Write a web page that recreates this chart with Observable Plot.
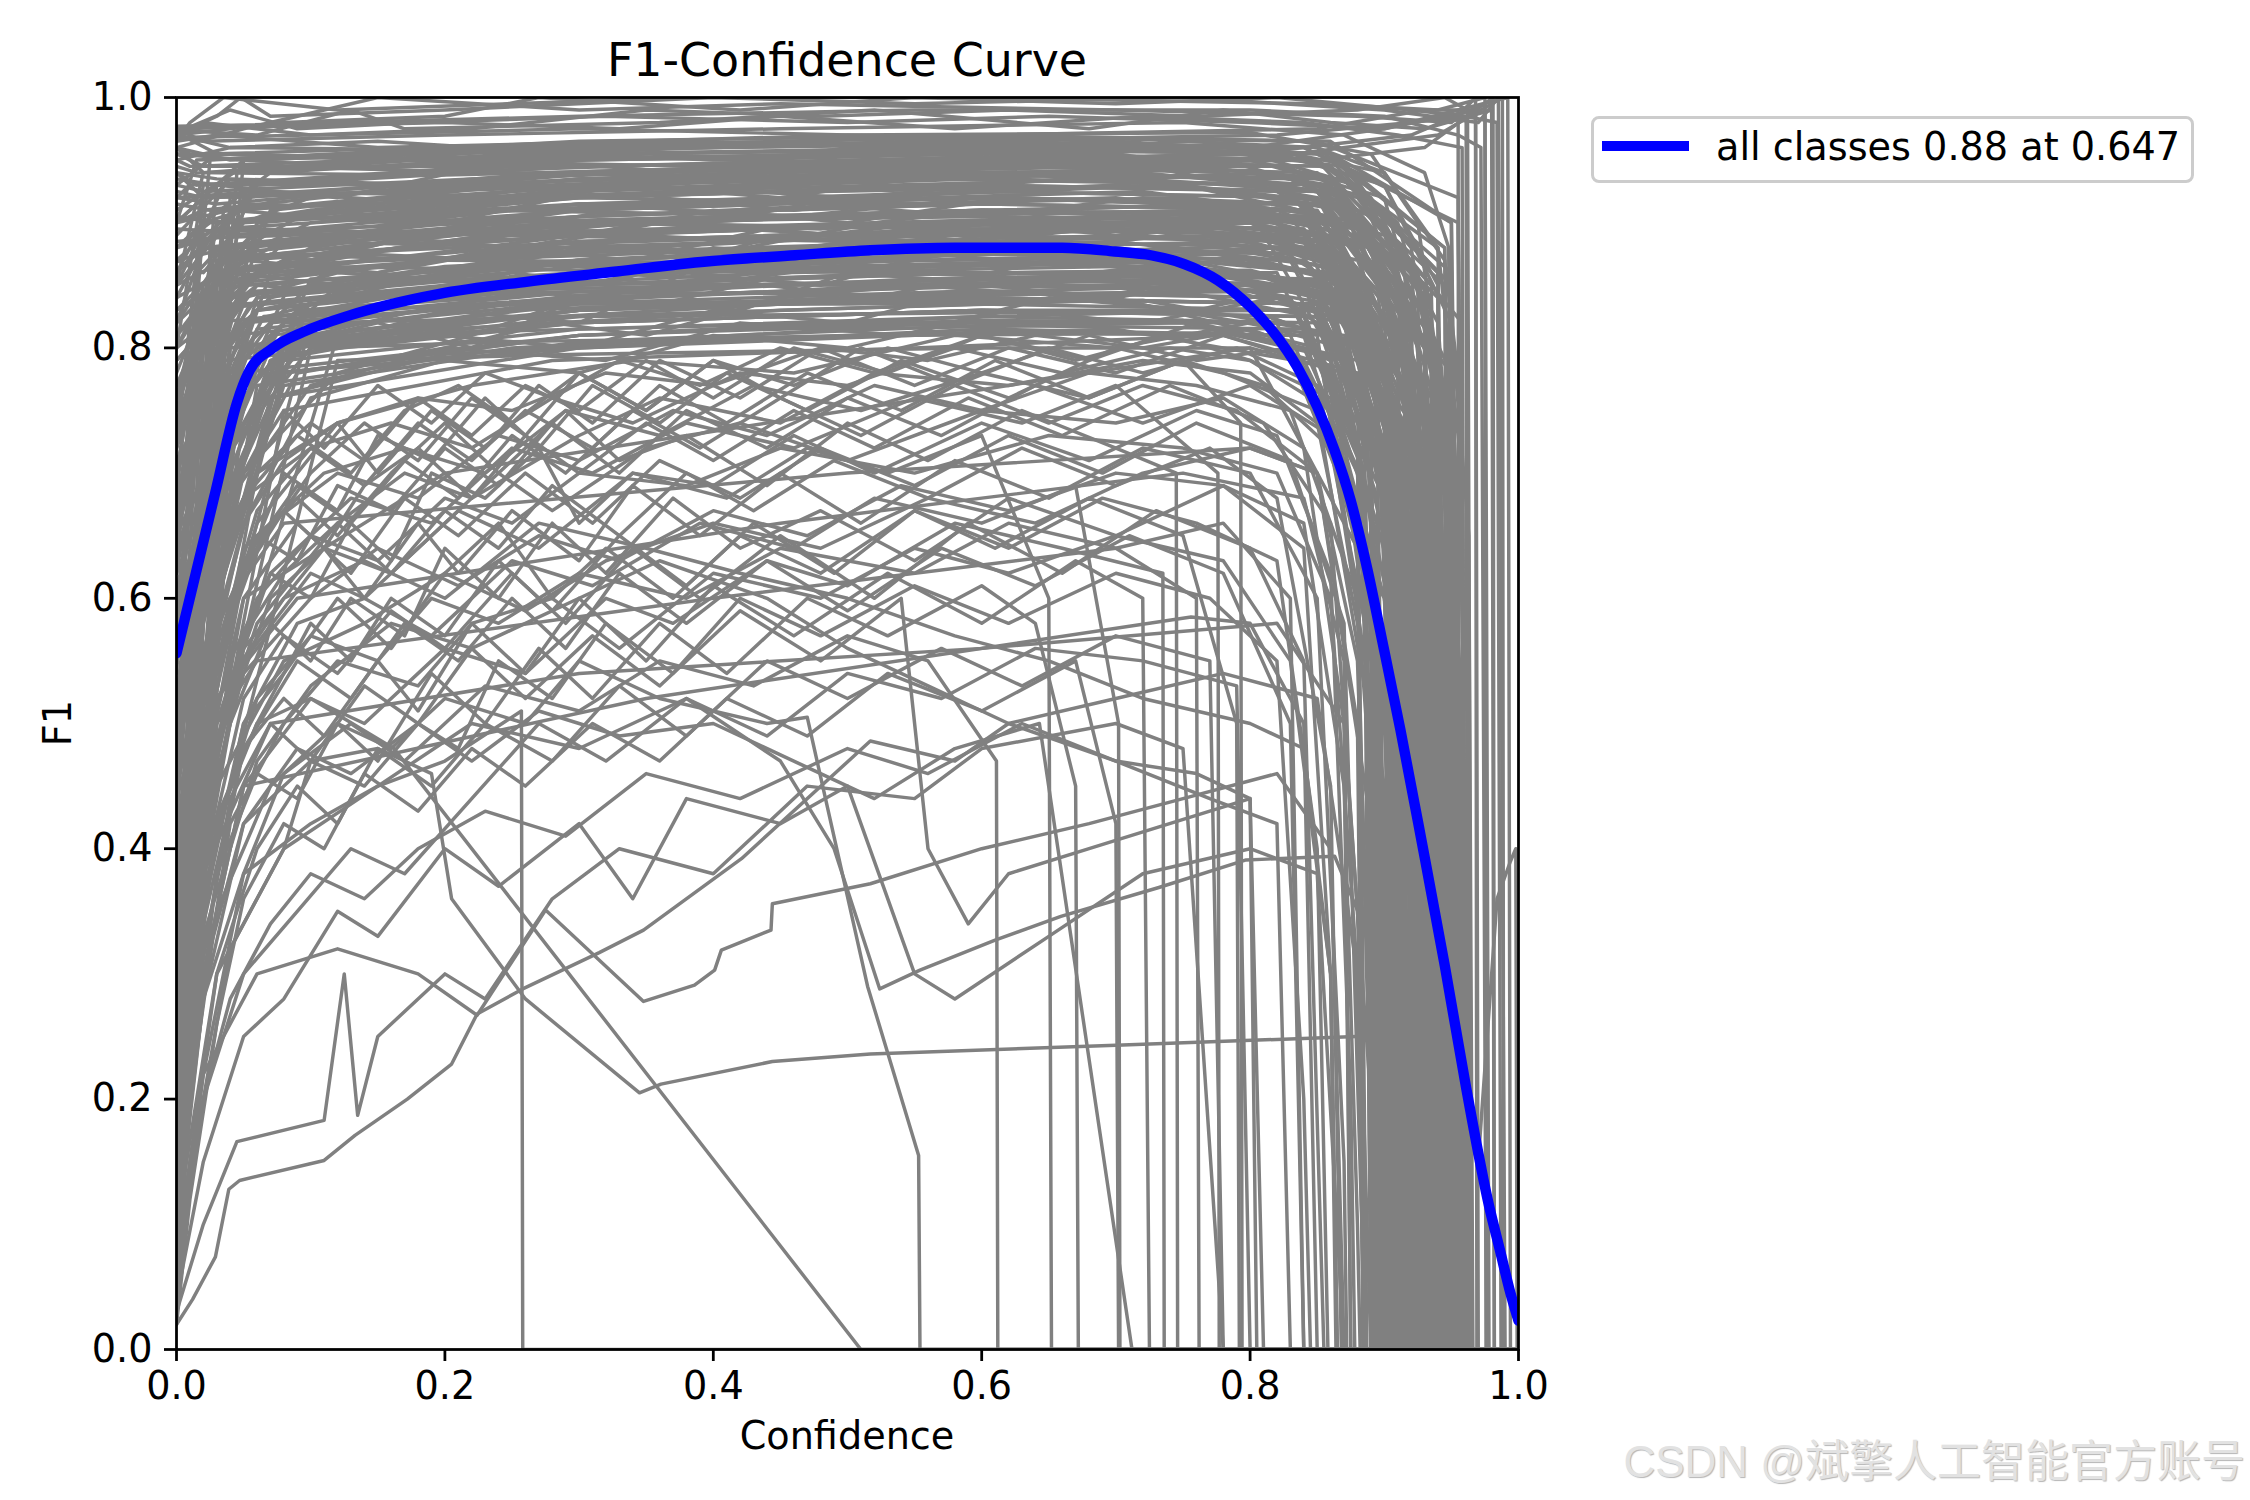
<!DOCTYPE html>
<html><head><meta charset="utf-8">
<script src="https://cdn.jsdelivr.net/npm/d3@7"></script>
<script src="https://cdn.jsdelivr.net/npm/@observablehq/plot@0.6"></script>
<style>
html,body{margin:0;padding:0;background:#fff;overflow:hidden;}
#wrap{position:relative;width:2250px;height:1500px;overflow:hidden;font-family:"DejaVu Sans",sans-serif;background:#fff;}
#chart{position:absolute;left:0;top:0;}
.t{position:absolute;white-space:nowrap;line-height:1;color:#000;}
</style></head><body>
<div id="wrap">
<div id="chart"></div>
<div class="t" style="left:847px;top:38.2px;font-size:45.9px;transform:translateX(-50%);">F1-Confidence Curve</div>
<div class="t" style="left:847px;top:1416.7px;font-size:38.2px;transform:translateX(-50%);">Confidence</div>
<div class="t" style="left:58px;top:723px;font-size:38.2px;transform:translate(-50%,-50%) rotate(-90deg);">F1</div>
<div style="position:absolute;left:1591px;top:116px;width:603px;height:67px;box-sizing:border-box;border:3px solid #cccccc;border-radius:8px;background:rgba(255,255,255,0.8);"></div>
<div style="position:absolute;left:1602px;top:140.8px;width:87px;height:10.4px;background:#0000ff;"></div>
<div class="t" id="legtext" style="left:1716px;top:127.7px;font-size:38.2px;"></div>
<div class="t" style="right:5px;top:1440px;font-size:44px;font-family:'Liberation Sans','Noto Sans CJK SC',sans-serif;color:#e2e2e2;text-shadow:1px 1px 1px #b5b5b5;">CSDN @斌擎人工智能官方账号</div>
</div>
<script>
// ---- axis ticks ----
const confTicks = [0, 0.2, 0.4, 0.6, 0.8, 1.0];
const f1Ticks = [0, 0.2, 0.4, 0.6, 0.8, 1.0];
// ---- mean curve (all classes) ----
const bestF1 = 0.88, bestConf = 0.647;
const blueConf = [0,.029,.045,.054,.072,.095,.129,.195,.262,.328,.395,.461,.517,.58,.633,.66,.699,.726,.751,.776,.8,.82,.835,.85,.863,.875,.887,.9,.912,.928,.945,.961,.978,.986,.994,1.0];
const blueF1   = [.556,.685,.756,.781,.800,.813,.826,.843,.853,.861,.869,.874,.878,.880,.880,.880,.877,.874,.867,.854,.833,.809,.785,.753,.718,.678,.625,.558,.495,.405,.307,.209,.115,.080,.045,.023];
// ---- per-class curves: flat [conf, f1, conf, f1, ...] ----
const topCurves = [
[0,.977,.05,.978,.3,.985,.55,.99,.8,.99,.9,.985,.955,.97,.972,.96,.976,0,1,0],
[0,.975,.02,.965,.2,.97,.45,.975,.75,.98,.87,.97,.93,.94,.948,.88,.952,0,1,0],
[0,.972,.03,.955,.25,.962,.5,.97,.8,.972,.89,.955,.925,.9,.938,.8,.941,0,1,0],
[0,.96,.04,.95,.3,.958,.6,.964,.82,.96,.88,.935,.915,.86,.928,.7,.931,0,1,0],
[0,.95,.01,.945,.2,.952,.5,.958,.8,.962,.9,.94,.945,.87,.958,.75,.962,0,1,0],
[0,.94,.015,.93,.18,.94,.42,.948,.7,.955,.86,.93,.91,.84,.926,.6,.929,0,1,0],
[0,.93,.02,.925,.22,.935,.5,.945,.78,.95,.88,.92,.93,.85,.945,.7,.948,0,1,0],
[0,.92,.03,.915,.2,.93,.45,.94,.72,.945,.85,.92,.9,.82,.915,.6,.918,0,1,0],
[0,.9,.02,.91,.15,.925,.4,.935,.7,.942,.86,.925,.925,.86,.94,.75,.944,0,1,0],
[0,.88,.025,.9,.2,.918,.45,.928,.72,.935,.87,.91,.915,.8,.93,.55,.933,0,1,0],
[0,.86,.03,.895,.25,.91,.5,.92,.75,.93,.88,.9,.935,.82,.95,.6,.953,0,1,0],
[0,.84,.02,.88,.2,.9,.45,.912,.7,.92,.85,.9,.885,.8,.895,.5,.898,0,1,0],
[0,.82,.035,.875,.22,.895,.5,.905,.78,.915,.88,.895,.94,.8,.956,.55,.959,0,1,0],
[0,.8,.04,.87,.3,.89,.55,.9,.8,.905,.89,.88,.92,.78,.934,.5,.937,0,1,0],
[0,.78,.03,.86,.2,.885,.45,.895,.7,.9,.85,.885,.9,.8,.918,.6,.921,0,1,0],
[0,.76,.045,.855,.25,.875,.5,.888,.75,.895,.86,.87,.895,.75,.908,.45,.911,0,1,0],
[0,.74,.05,.85,.3,.87,.6,.88,.8,.885,.88,.86,.935,.75,.948,.4,.951,0,1,0],
[0,.72,.04,.84,.2,.865,.4,.875,.7,.88,.85,.86,.88,.75,.89,.4,.893,0,1,0],
[0,.7,.05,.835,.3,.86,.55,.87,.78,.875,.88,.85,.925,.7,.94,.35,.943,0,1,0],
[0,.68,.06,.83,.25,.855,.5,.865,.75,.87,.87,.845,.915,.72,.93,.45,.933,0,1,0],
[0,.66,.05,.82,.2,.848,.45,.86,.7,.865,.86,.84,.89,.7,.9,.4,.903,0,1,0],
[0,.64,.06,.815,.3,.842,.55,.855,.8,.86,.89,.83,.945,.7,.958,.3,.961,0,1,0],
[0,.62,.07,.81,.25,.835,.5,.848,.75,.855,.88,.82,.93,.65,.946,.3,.949,0,1,0],
[0,.6,.06,.8,.3,.83,.6,.845,.8,.85,.87,.82,.92,.66,.935,.35,.938,0,1,0],
[0,.58,.07,.79,.2,.82,.45,.835,.7,.84,.85,.8,.885,.62,.895,.3,.898,0,1,0],
[0,.96,.01,.955,.25,.95,.5,.955,.75,.96,.87,.945,.92,.88,.935,.78,.939,0,1,0],
[0,.955,.02,.945,.3,.945,.6,.95,.82,.955,.9,.93,.95,.82,.963,.65,.966,0,1,0],
[0,.945,.015,.94,.2,.938,.45,.945,.7,.95,.86,.935,.91,.86,.922,.7,.925,0,1,0],
[0,.935,.03,.93,.25,.932,.55,.94,.8,.942,.89,.92,.94,.82,.955,.6,.958,0,1,0],
[0,.925,.02,.92,.18,.925,.4,.932,.68,.938,.85,.925,.895,.85,.905,.72,.908,0,1,0],
[0,.915,.025,.91,.2,.918,.48,.925,.75,.93,.88,.91,.93,.8,.944,.55,.947,0,1,0],
[0,.905,.03,.9,.25,.91,.5,.918,.72,.925,.86,.905,.9,.8,.91,.55,.913,0,1,0],
[0,.895,.035,.893,.3,.902,.6,.91,.82,.915,.9,.89,.95,.78,.962,.5,.965,0,1,0],
[0,.885,.03,.888,.22,.895,.5,.905,.78,.91,.88,.89,.935,.76,.95,.45,.953,0,1,0],
[0,.87,.04,.88,.2,.89,.45,.898,.7,.905,.86,.885,.91,.76,.925,.45,.928,0,1,0],
[0,.85,.04,.872,.25,.882,.5,.89,.75,.896,.87,.875,.92,.74,.936,.4,.939,0,1,0],
[0,.83,.05,.865,.3,.876,.55,.884,.8,.89,.88,.87,.94,.72,.955,.35,.958,0,1,0],
[0,.81,.045,.858,.2,.87,.42,.878,.7,.885,.86,.865,.905,.74,.92,.45,.923,0,1,0],
[0,.79,.05,.85,.25,.865,.5,.872,.76,.878,.87,.855,.925,.7,.94,.35,.943,0,1,0],
[0,.77,.055,.845,.3,.86,.6,.868,.8,.872,.88,.85,.93,.68,.944,.3,.947,0,1,0],
[0,.75,.06,.84,.22,.855,.45,.862,.72,.868,.85,.845,.885,.7,.897,.35,.9,0,1,0],
[0,.73,.055,.835,.28,.85,.5,.858,.75,.862,.87,.84,.92,.68,.934,.3,.937,0,1,0],
[0,.71,.06,.83,.2,.845,.48,.852,.78,.858,.88,.835,.94,.66,.954,.3,.957,0,1,0],
[0,.69,.065,.825,.3,.84,.55,.848,.8,.852,.89,.83,.93,.62,.945,.25,.948,0,1,0],
[0,.55,.08,.8,.25,.83,.5,.84,.75,.845,.87,.82,.91,.62,.925,.25,.928,0,1,0],
[0,.5,.07,.79,.2,.815,.45,.83,.7,.838,.85,.81,.88,.6,.888,.25,.891,0,1,0],
[0,.45,.08,.78,.3,.81,.6,.825,.8,.83,.88,.8,.935,.55,.95,.2,.953,0,1,0],
[0,.4,.06,.77,.25,.8,.5,.815,.75,.82,.87,.79,.92,.55,.935,.2,.938,0,1,0],
[0,.35,.07,.76,.2,.795,.42,.808,.7,.815,.86,.785,.89,.55,.9,.2,.903,0,1,0],
[0,.3,.08,.75,.28,.79,.55,.8,.78,.81,.88,.78,.93,.5,.945,.15,.948,0,1,0],
[0,.97,.02,.98,.1,.97,.3,.975,.5,.97,.7,.965,.85,.955,.9,.93,.94,.85,.944,0,1,0],
[0,.965,.03,.97,.15,.96,.35,.965,.6,.96,.8,.955,.88,.93,.93,.8,.936,0,1,0],
[0,.95,.04,.96,.2,.958,.4,.95,.6,.955,.8,.95,.9,.92,.935,.78,.94,0,1,0],
[0,.93,.03,.955,.15,.95,.4,.945,.65,.948,.82,.94,.9,.9,.952,.7,.956,0,1,0],
[0,.91,.05,.945,.25,.94,.5,.935,.7,.94,.85,.93,.91,.86,.93,.7,.934,0,1,0],
[0,.89,.04,.935,.2,.93,.45,.925,.75,.93,.87,.915,.92,.84,.94,.66,.944,0,1,0],
[0,.87,.06,.925,.3,.92,.55,.915,.75,.92,.86,.905,.89,.8,.905,.6,.908,0,1,0],
[0,.85,.05,.915,.22,.91,.5,.905,.78,.91,.88,.895,.94,.78,.957,.5,.96,0,1,0],
[0,.83,.07,.905,.3,.9,.6,.895,.8,.9,.89,.88,.93,.76,.946,.45,.95,0,1,0],
[0,.81,.06,.895,.25,.89,.5,.885,.72,.89,.86,.875,.895,.75,.906,.45,.909,0,1,0],
[0,.79,.08,.885,.3,.88,.55,.875,.78,.88,.88,.86,.93,.72,.944,.4,.948,0,1,0],
[0,.77,.07,.875,.2,.87,.45,.868,.7,.872,.87,.85,.915,.7,.93,.4,.933,0,1,0],
[0,.65,.09,.865,.3,.862,.6,.86,.8,.862,.88,.84,.935,.66,.95,.3,.953,0,1,0],
[0,.6,.1,.855,.25,.852,.5,.85,.75,.855,.86,.835,.89,.66,.9,.3,.903,0,1,0],
[0,.52,.1,.84,.3,.845,.55,.842,.8,.845,.89,.82,.94,.6,.955,.2,.958,0,1,0],
[0,.48,.09,.83,.28,.835,.5,.835,.72,.838,.87,.81,.92,.6,.934,.2,.937,0,1,0],
[0,.42,.1,.82,.3,.825,.6,.828,.8,.83,.88,.8,.93,.55,.946,.15,.949,0,1,0],
[0,.38,.12,.81,.3,.815,.5,.82,.75,.822,.86,.795,.895,.55,.906,.15,.909,0,1,0],
[0,.33,.1,.8,.25,.805,.55,.81,.78,.812,.88,.79,.935,.5,.95,.12,.953,0,1,0],
[0,.28,.12,.79,.3,.795,.6,.8,.8,.8,.87,.78,.92,.5,.935,.12,.938,0,1,0],
[0,.6,.03,.75,.08,.82,.15,.84,.25,.86,.32,.85,.4,.88,.5,.87,.6,.9,.7,.89,.8,.9,.87,.86,.91,.7,.925,.3,.928,0,1,0],
[0,.5,.04,.72,.1,.8,.2,.83,.3,.82,.38,.86,.48,.85,.58,.88,.7,.87,.82,.88,.88,.84,.925,.65,.94,.25,.943,0,1,0],
[0,.45,.05,.7,.12,.78,.22,.81,.3,.84,.42,.83,.5,.86,.62,.85,.75,.87,.85,.86,.9,.78,.935,.5,.939,0,1,0],
[0,.4,.04,.68,.1,.77,.2,.8,.28,.82,.35,.81,.45,.84,.55,.85,.68,.84,.8,.86,.88,.83,.92,.6,.933,.2,.936,0,1,0],
[0,.55,.03,.74,.07,.8,.15,.82,.22,.8,.3,.84,.4,.855,.52,.84,.65,.87,.78,.86,.86,.85,.91,.72,.926,.35,.929,0,1,0],
[0,.62,.025,.78,.06,.83,.15,.85,.25,.87,.35,.86,.45,.89,.55,.88,.65,.9,.75,.9,.85,.89,.9,.8,.93,.55,.934,0,1,0],
[0,.7,.02,.82,.06,.86,.14,.88,.22,.9,.3,.89,.4,.91,.5,.9,.62,.92,.74,.915,.84,.91,.9,.84,.94,.62,.944,0,1,0],
[0,.74,.03,.84,.08,.87,.18,.89,.28,.9,.36,.92,.46,.91,.58,.925,.7,.93,.82,.925,.89,.88,.935,.7,.948,.35,.951,0,1,0],
[0,.66,.02,.8,.05,.84,.12,.86,.2,.855,.3,.88,.42,.875,.55,.89,.68,.9,.8,.89,.87,.87,.91,.76,.923,.45,.926,0,1,0],
[0,.58,.04,.76,.1,.81,.18,.83,.26,.845,.36,.835,.44,.855,.54,.86,.66,.855,.78,.87,.86,.86,.905,.72,.918,.4,.921,0,1,0],
[0,.9,.03,.93,.12,.92,.25,.95,.38,.94,.5,.96,.62,.95,.75,.96,.85,.95,.91,.9,.95,.75,.955,0,1,0],
[0,.88,.04,.9,.1,.91,.2,.9,.33,.93,.45,.92,.58,.94,.7,.935,.82,.94,.9,.9,.93,.75,.94,.4,.943,0,1,0],
[0,.86,.02,.88,.1,.87,.22,.9,.35,.89,.47,.915,.6,.905,.72,.92,.84,.915,.89,.88,.915,.75,.925,.4,.928,0,1,0],
[0,.84,.05,.87,.15,.86,.28,.885,.4,.875,.52,.9,.64,.89,.76,.905,.86,.9,.9,.85,.93,.7,.942,.35,.945,0,1,0],
[0,.82,.04,.86,.12,.85,.24,.87,.36,.86,.5,.885,.62,.875,.74,.89,.84,.885,.88,.85,.905,.72,.914,.4,.917,0,1,0],
[0,.8,.06,.85,.18,.84,.3,.86,.42,.855,.56,.875,.68,.865,.8,.88,.87,.86,.91,.74,.935,.5,.945,.2,.948,0,1,0],
[0,.97,.04,.96,.15,.965,.3,.955,.45,.965,.6,.955,.75,.965,.85,.96,.9,.94,.94,.88,.958,.7,.961,0,1,0],
[0,.955,.05,.95,.2,.94,.35,.955,.5,.945,.65,.955,.8,.95,.88,.93,.92,.86,.935,.7,.938,0,1,0],
[0,.94,.03,.935,.18,.928,.32,.94,.48,.932,.62,.945,.78,.94,.87,.92,.915,.82,.93,.6,.933,0,1,0],
[0,.92,.06,.925,.2,.915,.35,.93,.5,.92,.66,.935,.8,.93,.88,.91,.925,.8,.94,.55,.943,0,1,0],
[0,.9,.04,.91,.16,.9,.3,.915,.46,.905,.6,.92,.76,.915,.86,.9,.9,.8,.912,.55,.915,0,1,0],
[0,.88,.05,.895,.2,.885,.34,.9,.5,.89,.64,.905,.8,.9,.89,.88,.94,.72,.955,.4,.958,0,1,0],
[0,.56,.03,.7,.08,.8,.2,.81,.3,.8,.4,.83,.5,.82,.6,.85,.7,.84,.8,.86,.87,.84,.9,.7,.915,.3,.918,0,1,0],
[0,.5,.04,.68,.09,.78,.2,.8,.32,.79,.42,.82,.54,.81,.65,.84,.76,.83,.84,.85,.89,.8,.92,.6,.933,.2,.936,0,1,0],
[0,.46,.05,.66,.1,.76,.2,.79,.3,.78,.4,.81,.5,.8,.62,.83,.72,.82,.82,.84,.88,.8,.91,.65,.923,.25,.926,0,1,0],
[0,.44,.06,.66,.12,.74,.22,.77,.34,.79,.46,.78,.58,.81,.7,.8,.8,.82,.87,.8,.9,.7,.912,.35,.915,0,1,0],
[0,.64,.02,.77,.05,.82,.12,.84,.2,.86,.3,.85,.4,.87,.5,.86,.6,.88,.7,.875,.8,.89,.86,.87,.9,.76,.912,.4,.915,0,1,0],
[0,.68,.03,.8,.07,.84,.15,.86,.24,.88,.34,.87,.44,.895,.54,.885,.66,.9,.78,.895,.86,.88,.92,.7,.935,.3,.938,0,1,0],
[0,.72,.02,.83,.06,.86,.14,.875,.24,.87,.34,.89,.44,.885,.56,.9,.68,.895,.8,.905,.88,.88,.94,.6,.952,.25,.955,0,1,0],
[0,.76,.04,.85,.08,.87,.16,.885,.26,.88,.36,.9,.48,.895,.6,.91,.72,.905,.82,.91,.89,.88,.93,.72,.944,.35,.947,0,1,0]
];
const bandCurves = [
[0,.12,.03,.86,.3,.9,.6,.91,.83,.905,.9,.8,.912,0,1,0],
[0,.15,.025,.88,.3,.91,.6,.925,.84,.92,.91,.82,.921,0,1,0],
[0,.18,.035,.9,.28,.925,.55,.935,.82,.93,.92,.84,.932,0,1,0],
[0,.22,.02,.84,.32,.87,.62,.885,.85,.88,.895,.7,.905,0,1,0],
[0,.25,.04,.92,.3,.94,.6,.945,.83,.945,.93,.85,.943,0,1,0],
[0,.28,.03,.87,.25,.895,.5,.905,.8,.91,.885,.75,.894,0,1,0],
[0,.32,.045,.94,.35,.955,.65,.96,.86,.955,.94,.86,.951,0,1,0],
[0,.35,.025,.82,.3,.85,.6,.86,.82,.86,.88,.72,.887,0,1,0],
[0,.38,.05,.95,.3,.96,.6,.965,.85,.96,.945,.88,.957,0,1,0],
[0,.42,.03,.85,.28,.88,.58,.89,.84,.885,.9,.76,.909,0,1,0],
[0,.45,.02,.83,.3,.86,.6,.875,.83,.87,.89,.74,.899,0,1,0],
[0,.48,.035,.91,.32,.93,.62,.94,.86,.935,.925,.82,.937,0,1,0],
[0,.52,.04,.89,.3,.915,.6,.92,.84,.915,.915,.8,.926,0,1,0],
[0,.55,.025,.86,.25,.89,.55,.9,.82,.9,.905,.78,.915,0,1,0],
[0,.58,.03,.93,.3,.945,.6,.95,.85,.95,.935,.85,.947,0,1,0],
[0,.62,.02,.9,.28,.92,.58,.93,.83,.925,.91,.8,.919,0,1,0],
[0,.65,.03,.87,.3,.9,.6,.91,.84,.905,.9,.78,.91,0,1,0],
[0,.68,.025,.95,.3,.965,.6,.97,.86,.965,.95,.9,.962,0,1,0],
[0,.72,.02,.92,.32,.94,.62,.945,.85,.94,.93,.84,.94,0,1,0],
[0,.75,.03,.88,.3,.905,.6,.915,.84,.91,.9,.78,.907,0,1,0],
[0,.1,.04,.8,.3,.83,.6,.845,.83,.84,.885,.7,.891,0,1,0],
[0,.14,.05,.82,.3,.845,.6,.855,.84,.85,.89,.72,.896,0,1,0],
[0,.2,.045,.78,.3,.81,.6,.82,.82,.82,.88,.66,.886,0,1,0],
[0,.26,.04,.81,.28,.835,.58,.845,.83,.84,.9,.68,.906,0,1,0],
[0,.3,.035,.79,.3,.82,.6,.83,.84,.83,.895,.65,.902,0,1,0],
[0,.4,.04,.8,.32,.84,.62,.85,.85,.845,.91,.7,.917,0,1,0],
[0,.5,.03,.84,.3,.865,.6,.875,.84,.87,.92,.74,.929,0,1,0],
[0,.6,.035,.86,.3,.885,.6,.895,.85,.89,.93,.76,.938,0,1,0],
[0,.7,.03,.9,.3,.925,.6,.935,.86,.93,.94,.8,.948,0,1,0],
[0,.8,.02,.93,.3,.95,.6,.955,.86,.95,.95,.85,.959,0,1,0],
[0,.85,.02,.94,.25,.958,.55,.962,.84,.96,.955,.9,.964,0,1,0],
[0,.9,.015,.95,.3,.962,.6,.968,.85,.965,.955,.92,.963,0,1,0],
[0,.92,.01,.93,.3,.945,.6,.952,.85,.95,.94,.88,.949,0,1,0],
[0,.94,.02,.92,.3,.93,.6,.938,.84,.935,.925,.85,.934,0,1,0],
[0,.96,.02,.94,.3,.95,.6,.958,.86,.955,.945,.88,.953,0,1,0],
[0,.11,.02,.7,.06,.84,.3,.87,.6,.88,.83,.875,.89,.75,.897,0,1,0],
[0,.16,.025,.72,.07,.86,.3,.89,.6,.9,.84,.895,.905,.78,.913,0,1,0],
[0,.24,.02,.75,.05,.88,.3,.905,.6,.915,.85,.91,.915,.8,.923,0,1,0],
[0,.33,.03,.78,.06,.9,.3,.92,.6,.93,.85,.925,.925,.82,.931,0,1,0],
[0,.44,.025,.8,.05,.91,.3,.935,.6,.94,.86,.935,.935,.84,.942,0,1,0],
[0,.54,.02,.82,.06,.89,.3,.91,.6,.92,.84,.915,.91,.8,.918,0,1,0],
[0,.63,.02,.84,.05,.87,.3,.89,.6,.9,.84,.895,.9,.78,.906,0,1,0],
[0,.73,.015,.86,.05,.9,.3,.915,.6,.925,.85,.92,.92,.82,.927,0,1,0],
[0,.82,.02,.88,.06,.93,.3,.945,.6,.95,.86,.945,.94,.86,.946,0,1,0],
[0,.88,.02,.9,.07,.94,.3,.955,.6,.96,.86,.955,.95,.9,.956,0,1,0],
[0,.13,.03,.6,.07,.76,.3,.8,.6,.815,.83,.81,.88,.68,.884,0,1,0],
[0,.19,.035,.62,.08,.77,.3,.805,.6,.818,.84,.815,.89,.7,.893,0,1,0],
[0,.27,.03,.66,.08,.78,.3,.81,.6,.822,.84,.82,.9,.7,.904,0,1,0],
[0,.36,.03,.7,.09,.8,.3,.825,.6,.835,.85,.83,.91,.7,.914,0,1,0],
[0,.46,.035,.74,.08,.8,.3,.83,.6,.84,.85,.835,.92,.68,.925,0,1,0],
[0,.56,.03,.76,.07,.82,.3,.84,.6,.85,.86,.845,.93,.7,.935,0,1,0],
[0,.66,.025,.8,.06,.85,.3,.87,.6,.88,.86,.875,.94,.72,.945,0,1,0],
[0,.76,.02,.85,.07,.88,.3,.9,.6,.91,.86,.905,.95,.78,.954,0,1,0],
[0,.86,.02,.9,.08,.92,.3,.935,.6,.94,.87,.935,.958,.82,.96,0,1,0],
[0,.1,.015,.5,.04,.72,.1,.8,.3,.82,.6,.83,.84,.825,.89,.7,.9,0,1,0],
[0,.14,.02,.55,.05,.74,.1,.81,.3,.835,.6,.84,.85,.835,.9,.72,.908,0,1,0],
[0,.21,.02,.6,.05,.76,.1,.83,.3,.85,.6,.86,.85,.855,.91,.74,.916,0,1,0],
[0,.29,.025,.65,.06,.79,.12,.85,.3,.87,.6,.88,.85,.875,.92,.76,.924,0,1,0],
[0,.37,.02,.68,.05,.8,.11,.86,.3,.885,.6,.895,.86,.89,.925,.78,.933,0,1,0],
[0,.47,.02,.72,.05,.82,.1,.87,.3,.9,.6,.905,.86,.9,.93,.8,.936,0,1,0],
[0,.57,.015,.75,.05,.85,.1,.88,.3,.91,.6,.92,.86,.915,.935,.82,.94,0,1,0],
[0,.67,.015,.78,.04,.87,.1,.9,.3,.92,.6,.93,.86,.925,.94,.84,.944,0,1,0],
[0,.77,.02,.82,.05,.88,.1,.91,.3,.93,.6,.94,.86,.935,.945,.85,.95,0,1,0],
[0,.87,.02,.86,.05,.9,.1,.92,.3,.94,.6,.95,.86,.945,.95,.86,.955,0,1,0],
[0,.12,.01,.4,.03,.65,.07,.78,.3,.8,.6,.812,.84,.81,.885,.66,.89,0,1,0],
[0,.17,.015,.45,.035,.68,.08,.79,.3,.815,.6,.825,.85,.82,.895,.68,.899,0,1,0],
[0,.23,.01,.5,.03,.7,.07,.8,.3,.82,.6,.83,.85,.825,.9,.7,.911,0,1,0],
[0,.31,.015,.55,.04,.72,.09,.81,.3,.83,.6,.84,.85,.835,.91,.7,.92,0,1,0],
[0,.39,.02,.6,.04,.75,.08,.82,.3,.84,.6,.85,.86,.845,.915,.72,.927,0,1,0],
[0,.49,.015,.66,.04,.78,.09,.83,.3,.845,.6,.855,.86,.85,.925,.72,.932,0,1,0]
];
const peakCurves = [
[0,.97,.03,.985,.048,1,.07,.985,.2,.99,.4,1,.55,.995,.75,1,.9,.99,.97,.98,.985,1,.99,0,1,0],
[0,.965,.01,.98,.035,1,.12,.99,.25,.995,.38,1,.6,1,.85,.995,.94,.99,.975,1,.978,0,1,0],
[0,.96,.05,.975,.15,1,.3,.99,.45,.995,.7,.99,.88,.985,.95,.98,.968,1,.97,0,1,0],
[0,.97,.08,.98,.2,.985,.27,1,.42,.99,.55,1,.7,.995,.82,1,.92,.99,.96,.985,.984,.98,.987,0,1,0],
[0,.968,.1,.97,.22,.975,.35,.99,.48,.985,.62,.99,.76,.985,.88,.99,.945,1,.962,.99,.965,0,1,0],
[0,.972,.04,.99,.09,.975,.18,.98,.32,.985,.5,.98,.65,.985,.8,.98,.9,.975,.955,.99,.992,1,.994,0,1,0],
[0,.974,.06,.97,.13,.99,.17,.975,.36,.98,.52,.99,.68,.975,.78,.99,.86,.98,.93,.975,.98,.99,.982,0,1,0],
[0,.975,.2,.98,.33,.975,.45,.985,.58,.975,.72,.985,.84,.98,.91,.97,.958,.96,.96,0,1,0]
];
const tailCurves = [
[0,.9,.05,.95,.3,.96,.6,.97,.85,.975,.93,.99,.955,.99,.956,0,1,0],
[0,.85,.04,.94,.25,.955,.55,.965,.82,.97,.92,.98,.961,.985,.962,0,1,0],
[0,.8,.06,.93,.3,.95,.6,.955,.8,.96,.9,.975,.968,.99,.969,0,1,0],
[0,.75,.05,.92,.28,.94,.6,.95,.8,.955,.92,.97,.975,.995,.976,0,1,0],
[0,.7,.07,.91,.3,.935,.55,.945,.85,.95,.93,.96,.981,1,.982,0,1,0],
[0,.65,.06,.9,.25,.925,.5,.94,.8,.95,.94,.97,.988,1,.989,0,1,0],
[0,.3,.05,.6,.2,.7,.5,.75,.8,.8,.9,.6,.95,.2,.97,.15,.984,.36,.994,.39,.998,.4,.999,0,1,0]
];
const midCurves = [
[0,.1,.01,.3,.03,.5,.06,.6,.1,.65,.15,.63,.2,.68,.25,.66,.3,.7,.38,.69,.45,.72,.55,.7,.65,.73,.75,.72,.82,.7,.86,.6,.88,.3,.885,0,1,0],
[0,.15,.02,.4,.05,.55,.1,.62,.14,.6,.18,.64,.24,.7,.28,.67,.35,.72,.42,.74,.5,.71,.6,.75,.7,.74,.78,.76,.84,.72,.87,.5,.875,0,1,0],
[0,.2,.02,.45,.06,.58,.12,.66,.17,.7,.22,.68,.3,.73,.36,.76,.45,.74,.52,.78,.62,.77,.72,.79,.8,.78,.85,.74,.895,.5,.9,0,1,0],
[0,.08,.015,.25,.04,.42,.08,.5,.12,.55,.18,.53,.22,.58,.28,.6,.33,.56,.4,.62,.48,.6,.55,.64,.62,.62,.7,.65,.78,.63,.83,.55,.86,.3,.865,0,1,0],
[0,.12,.02,.3,.05,.45,.1,.52,.14,.5,.2,.56,.26,.54,.32,.6,.37,.58,.44,.63,.5,.61,.58,.66,.66,.64,.735,.62,.736,0,1,0],
[0,.05,.02,.22,.05,.38,.08,.46,.13,.5,.17,.47,.23,.53,.3,.51,.36,.55,.43,.53,.5,.57,.56,.55,.611,.47,.612,0,1,0],
[0,.18,.03,.48,.07,.6,.11,.64,.16,.62,.21,.67,.27,.64,.34,.7,.41,.68,.47,.72,.53,.7,.6,.73,.65,.6,.652,0,1,0],
[0,.1,.02,.35,.05,.5,.09,.58,.14,.6,.19,.57,.25,.63,.31,.61,.39,.66,.46,.64,.52,.68,.6,.66,.67,.69,.702,.5,.703,0,1,0],
[0,.06,.01,.2,.03,.35,.07,.45,.12,.5,.16,.48,.2,.52,.26,.5,.3,.55,.36,.52,.44,.5,.47,.505,.515,.29,.553,.155,.554,0,1,0],
[0,.14,.02,.38,.06,.52,.1,.57,.15,.55,.19,.6,.24,.58,.3,.62,.38,.6,.45,.64,.55,.62,.62,.66,.7,.64,.76,.6,.762,0,1,0],
[0,.22,.03,.5,.07,.62,.13,.68,.19,.66,.25,.72,.31,.7,.38,.74,.46,.72,.55,.76,.63,.74,.7,.77,.776,.7,.777,0,1,0],
[0,.3,.02,.55,.06,.65,.11,.7,.17,.72,.23,.7,.29,.75,.36,.73,.43,.77,.51,.75,.6,.78,.68,.76,.75,.79,.793,.74,.794,0,1,0],
[0,.09,.02,.28,.05,.42,.09,.48,.13,.46,.18,.5,.22,.47,.27,.51,.33,.49,.4,.5,.46,.47,.52,.44,.58,.48,.643,.5,.712,0,1,0],
[0,.25,.03,.52,.08,.6,.14,.63,.2,.6,.27,.66,.35,.64,.42,.62,.5,.6,.58,.57,.65,.55,.72,.52,.8,.5,.84,.48,.86,.3,.865,0,1,0],
[0,.12,.02,.33,.06,.47,.1,.53,.16,.58,.22,.56,.3,.6,.36,.63,.44,.6,.5,.56,.56,.53,.62,.5,.7,.47,.77,.44,.82,.42,.83,0,1,0],
[0,.2,.03,.45,.08,.55,.14,.58,.2,.62,.26,.59,.32,.63,.4,.66,.48,.64,.56,.68,.64,.66,.72,.7,.8,.72,.85,.7,.88,.55,.895,.1,.897,0,1,0],
[0,.35,.02,.6,.05,.68,.1,.72,.16,.74,.22,.72,.28,.76,.34,.74,.42,.78,.5,.77,.58,.8,.66,.78,.74,.8,.8,.79,.86,.75,.9,.55,.91,.2,.913,0,1,0],
[0,.28,.03,.58,.07,.66,.12,.7,.18,.68,.24,.73,.3,.71,.37,.75,.44,.73,.52,.77,.6,.75,.68,.78,.76,.77,.83,.75,.88,.6,.9,.3,.903,0,1,0],
[0,.16,.02,.42,.05,.54,.1,.6,.15,.64,.21,.61,.27,.65,.33,.63,.4,.67,.47,.65,.54,.69,.62,.67,.7,.7,.78,.69,.84,.66,.87,.45,.88,.1,.882,0,1,0],
[0,.4,.02,.62,.06,.7,.12,.74,.18,.76,.25,.75,.32,.78,.4,.77,.48,.8,.56,.79,.64,.81,.72,.8,.8,.815,.86,.79,.91,.6,.925,.2,.928,0,1,0],
[0,.1,.02,.3,.05,.45,.35,.52,.756,.585,.8,.58,.84,.5,.85,0,1,0],
[0,.2,.03,.5,.06,.55,.4,.6,.7,.64,.78,.66,.83,.6,.84,0,1,0],
[0,.3,.04,.6,.08,.66,.5,.7,.8,.72,.85,.7,.88,.5,.885,0,1,0],
[0,.15,.02,.38,.07,.5,.3,.54,.6,.56,.82,.58,.87,.5,.89,.2,.892,0,1,0],
[0,.25,.03,.52,.09,.6,.45,.66,.75,.7,.84,.68,.87,.55,.875,0,1,0]
];
const meshCurves = [
[0,.05,.01,.3,.04,.55,.07,.62,.1,.6,.13,.66,.16,.63,.19,.7,.23,.68,.27,.72,.3,.66,.34,.7,.4,.69,.46,.73,.52,.7,.6,.74,.68,.71,.76,.75,.82,.73,.86,.62,.875,.2,.878,0,1,0],
[0,.08,.015,.35,.04,.5,.07,.58,.1,.55,.13,.6,.17,.57,.2,.64,.24,.6,.28,.66,.32,.62,.37,.68,.42,.64,.48,.67,.55,.63,.62,.68,.7,.65,.78,.69,.84,.64,.86,.3,.864,0,1,0],
[0,.12,.02,.45,.05,.62,.08,.7,.12,.67,.15,.73,.19,.71,.23,.76,.27,.72,.31,.77,.36,.74,.41,.78,.47,.75,.54,.79,.62,.76,.7,.8,.78,.78,.85,.75,.89,.5,.895,0,1,0],
[0,.06,.02,.32,.05,.48,.08,.52,.11,.49,.15,.55,.18,.51,.22,.58,.26,.54,.3,.6,.35,.55,.4,.61,.46,.57,.53,.62,.6,.58,.67,.63,.72,.6,.725,0,1,0],
[0,.15,.02,.5,.05,.64,.09,.68,.12,.65,.16,.7,.2,.74,.24,.7,.29,.75,.33,.71,.38,.73,.44,.69,.5,.74,.56,.71,.63,.75,.7,.72,.745,.7,.746,0,1,0],
[0,.1,.02,.4,.05,.56,.08,.6,.11,.64,.14,.6,.18,.66,.21,.62,.25,.67,.3,.63,.34,.69,.39,.65,.45,.7,.51,.66,.58,.71,.65,.68,.72,.72,.8,.7,.85,.6,.87,.15,.872,0,1,0],
[0,.2,.02,.52,.05,.66,.08,.71,.12,.74,.15,.7,.19,.75,.23,.72,.27,.77,.31,.74,.36,.79,.42,.76,.48,.8,.55,.77,.62,.8,.7,.78,.78,.81,.84,.79,.88,.7,.9,.3,.904,0,1,0],
[0,.04,.01,.2,.03,.38,.06,.46,.09,.44,.12,.5,.15,.47,.19,.54,.23,.5,.27,.56,.31,.52,.36,.58,.41,.54,.47,.6,.53,.57,.6,.61,.64,.58,.67,.45,.672,0,1,0],
[0,.18,.03,.55,.06,.65,.09,.63,.12,.69,.16,.67,.2,.72,.24,.69,.28,.74,.33,.7,.38,.75,.44,.72,.5,.76,.57,.73,.64,.77,.72,.74,.8,.77,.86,.73,.9,.45,.91,.1,.912,0,1,0],
[0,.09,.02,.38,.05,.52,.08,.57,.12,.54,.16,.59,.2,.56,.25,.62,.29,.58,.34,.64,.39,.6,.45,.65,.52,.6,.59,.66,.66,.62,.73,.67,.8,.64,.84,.55,.855,0,1,0],
[0,.25,.02,.55,.05,.68,.09,.73,.13,.7,.17,.75,.21,.77,.25,.74,.3,.78,.35,.75,.4,.79,.46,.77,.53,.8,.6,.78,.68,.81,.76,.79,.83,.8,.88,.72,.91,.4,.918,0,1,0],
[0,.03,.01,.15,.03,.3,.06,.4,.09,.45,.12,.42,.15,.48,.19,.45,.23,.5,.28,.47,.33,.53,.38,.49,.44,.55,.5,.52,.57,.56,.63,.53,.7,.57,.77,.55,.78,0,1,0],
[0,.14,.02,.46,.05,.6,.09,.66,.13,.62,.17,.68,.21,.65,.26,.7,.31,.66,.36,.71,.42,.68,.48,.72,.55,.69,.62,.73,.69,.7,.76,.74,.83,.71,.87,.58,.886,0,1,0],
[0,.22,.02,.58,.05,.7,.08,.75,.11,.72,.15,.77,.19,.74,.23,.78,.28,.76,.33,.79,.39,.77,.45,.8,.52,.78,.6,.81,.68,.79,.76,.82,.84,.8,.89,.68,.915,.3,.922,0,1,0],
[0,.07,.015,.28,.04,.44,.07,.5,.1,.47,.14,.53,.18,.5,.22,.56,.26,.52,.31,.57,.36,.53,.42,.59,.48,.55,.54,.6,.56,.4,.59,.34,.62,.38,.68,.4,.74,.42,.8,.44,.805,0,1,0],
[0,.11,.02,.42,.05,.57,.08,.62,.12,.66,.16,.62,.2,.67,.24,.64,.28,.69,.33,.65,.38,.7,.43,.67,.49,.71,.56,.68,.63,.72,.7,.69,.77,.72,.82,.68,.86,.45,.868,0,1,0],
[0,.16,.02,.5,.05,.63,.09,.69,.13,.66,.17,.71,.21,.68,.25,.73,.29,.7,.34,.75,.39,.72,.45,.76,.51,.73,.58,.77,.65,.74,.72,.77,.79,.75,.85,.7,.89,.42,.898,0,1,0],
[0,.05,.01,.25,.03,.42,.06,.5,.1,.58,.13,.55,.16,.6,.2,.57,.24,.63,.28,.59,.33,.65,.38,.61,.43,.66,.49,.62,.55,.67,.61,.64,.68,.68,.75,.65,.79,.5,.792,0,1,0],
[0,.13,.02,.48,.05,.62,.08,.67,.11,.64,.14,.69,.18,.72,.22,.68,.26,.73,.3,.7,.35,.74,.4,.71,.46,.75,.52,.72,.59,.76,.66,.73,.74,.77,.81,.74,.86,.66,.88,.35,.89,0,1,0],
[0,.2,.03,.56,.06,.67,.1,.72,.14,.69,.18,.74,.22,.71,.26,.75,.31,.72,.36,.77,.41,.74,.47,.78,.54,.75,.61,.79,.68,.76,.75,.79,.81,.77,.86,.72,.9,.5,.915,.1,.917,0,1,0],
[0,.1,.02,.36,.05,.5,.08,.54,.12,.6,.16,.56,.2,.62,.24,.66,.28,.6,.32,.64,.37,.6,.42,.65,.48,.62,.55,.67,.62,.64,.69,.68,.76,.66,.82,.63,.85,.4,.858,0,1,0],
[0,.17,.02,.52,.06,.64,.1,.7,.14,.74,.18,.71,.22,.76,.26,.73,.3,.78,.35,.75,.4,.79,.45,.76,.51,.8,.58,.77,.65,.8,.72,.78,.79,.8,.85,.77,.9,.55,.92,.15,.924,0,1,0],
[0,.02,.01,.12,.03,.26,.05,.36,.08,.42,.11,.4,.14,.46,.18,.43,.22,.48,.26,.45,.31,.5,.36,.47,.41,.52,.47,.49,.53,.54,.6,.51,.67,.55,.7,.42,.702,0,1,0],
[0,.24,.03,.6,.06,.7,.1,.74,.14,.71,.18,.76,.22,.73,.26,.77,.3,.75,.35,.79,.4,.76,.46,.8,.53,.78,.6,.81,.67,.79,.74,.81,.8,.79,.86,.76,.9,.6,.92,.25,.926,0,1,0],
[0,.09,.02,.34,.05,.48,.09,.55,.13,.52,.17,.58,.21,.55,.25,.6,.29,.56,.33,.62,.38,.58,.44,.63,.5,.59,.57,.64,.64,.61,.71,.65,.78,.62,.83,.5,.84,0,1,0]
];
const lowCurves = [
[0,.02,.012,.04,.029,.074,.039,.128,.047,.135,.11,.151,.133,.171,.172,.2,.205,.228,.224,.268,.258,.288,.315,.317,.348,.335,.421,.392,.517,.486,.58,.47,.62,.5,.7,.52,.78,.54,.85,.52,.88,.3,.885,0,1,0],
[0,.12,.02,.3,.05,.42,.1,.47,.15,.48,.19,.46,.205,.36,.26,.28,.345,.205,.361,.212,.444,.23,.517,.236,.7,.243,.879,.25,.9,.25,.905,0,1,0],
[0,.08,.02,.22,.06,.3,.12,.32,.18,.3,.224,.267,.275,.351,.348,.278,.386,.291,.401,.303,.406,.319,.443,.335,.444,.356,.517,.372,.6,.4,.68,.42,.75,.44,.82,.46,.86,.4,.87,0,1,0],
[0,.1,.03,.3,.08,.4,.15,.45,.22,.5,.3,.48,.38,.52,.45,.47,.49,.4,.524,.288,.554,.303,.61,.327,.659,.346,.732,.369,.797,.391,.863,.394,.9,.3,.905,0,1,0],
[0,.2,.02,.4,.06,.5,.1,.52,.162,.48,.51,0,1,0],
[0,.1,.02,.28,.05,.38,.1,.42,.15,.45,.2,.47,.257,.51,.258,0,1,0],
[0,.03,.02,.1,.045,.166,.11,.183,.125,.3,.135,.187,.15,.25,.2,.3,.23,.28,.28,.36,.33,.4,.4,.38,.47,.45,.55,.44,.6,.48,.7,.5,.75,.48,.78,0,1,0],
[0,.04,.02,.15,.05,.25,.08,.28,.12,.35,.15,.33,.2,.4,.24,.37,.3,.42,.34,.36,.38,.44,.45,.42,.5,.45,.55,.3,.58,.28,.65,.33,.72,.38,.8,.4,.85,.38,.87,0,1,0],
[0,.05,.015,.18,.04,.28,.07,.34,.1,.38,.14,.36,.18,.4,.23,.43,.29,.41,.35,.46,.42,.44,.5,.48,.56,.46,.63,.5,.7,.47,.76,.46,.8,.44,.81,0,1,0],
[0,.07,.02,.2,.05,.3,.09,.35,.13,.4,.17,.38,.22,.44,.27,.5,.32,.47,.38,.52,.44,.49,.5,.54,.57,.52,.64,.56,.72,.55,.79,.53,.8,0,1,0],
[0,.06,.02,.2,.04,.32,.08,.4,.1,.47,.14,.45,.18,.5,.21,.48,.24,.55,.28,.52,.32,.58,.37,.54,.42,.6,.48,.57,.55,.61,.62,.58,.7,.62,.77,.6,.82,.55,.84,.2,.845,0,1,0]
];

function toRows(groups) {
  const rows = []; let id = 0;
  for (const g of groups) for (const c of g) {
    for (let i = 0; i < c.length; i += 2) rows.push({id, conf: c[i], f1: c[i + 1]});
    id++;
  }
  return rows;
}
const grayRows = toRows([lowCurves, midCurves, meshCurves, bandCurves, topCurves, peakCurves, tailCurves]);
const blueRows = blueConf.map((c, i) => ({conf: c, f1: blueF1[i]}));
const fmt = d3.format(".1f");
document.getElementById("legtext").textContent = `all classes ${bestF1.toFixed(2)} at ${bestConf.toFixed(3)}`;

const chart = Plot.plot({
  width: 2250, height: 1500,
  marginLeft: 176, marginRight: 732, marginTop: 97, marginBottom: 151,
  style: {fontFamily: "DejaVu Sans", fontSize: "38.2px", color: "#000", background: "transparent", overflow: "visible"},
  x: {domain: [0, 1]},
  y: {domain: [0, 1]},
  marks: [
    Plot.line(grayRows, {x: "conf", y: "f1", z: "id", stroke: "#808080", strokeWidth: 3.47, clip: true}),
    Plot.line(blueRows, {x: "conf", y: "f1", stroke: "#0000ff", strokeWidth: 10.4, curve: "monotone-x", clip: true}),
    Plot.frame({stroke: "#000", strokeWidth: 2.78}),
    Plot.axisX({ticks: confTicks, tickFormat: fmt, tickSize: 12, tickPadding: 10, strokeWidth: 2.78, label: null}),
    Plot.axisY({ticks: f1Ticks, tickFormat: fmt, tickSize: 12, tickPadding: 12, strokeWidth: 2.78, label: null})
  ]
});
document.getElementById("chart").appendChild(chart);
</script>
</body></html>
